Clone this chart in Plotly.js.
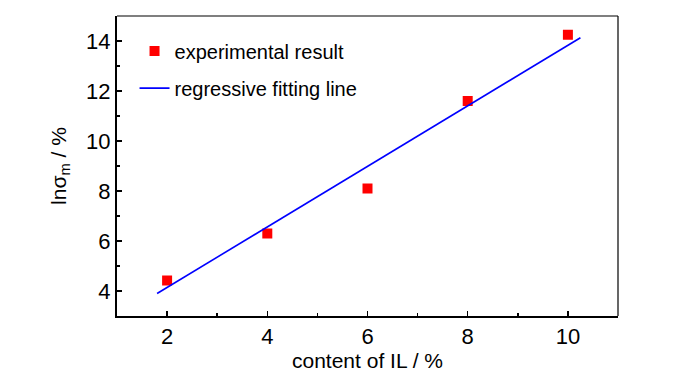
<!DOCTYPE html>
<html>
<head>
<meta charset="utf-8">
<script src="https://cdn.plot.ly/plotly-3.0.1.min.js"></script>
<style>html,body{margin:0;padding:0;background:#fff;}#chart{width:700px;height:374px;}</style>
</head>
<body>
<div id="chart"></div>
<script>
const contentIL = [2, 4, 6, 8, 10];
const lnSigma = [4.42, 6.3, 8.1, 11.6, 14.25];
const fitX = [1.8, 10.25];
const fitY = [3.9, 14.13];
const xTicks = [2, 4, 6, 8, 10];
const yTicks = [4, 6, 8, 10, 12, 14];

const FONT = "Liberation Sans, Arial, sans-serif";

const traces = [
  {
    x: contentIL, y: lnSigma, mode: 'markers', type: 'scatter',
    name: 'experimental result', legendgroup: 'a',
    marker: {symbol: 'square', size: 10, color: '#ff0000'}
  },
  {
    x: fitX, y: fitY, mode: 'lines', type: 'scatter',
    name: 'regressive fitting line', legendgroup: 'b',
    line: {color: '#0000ff', width: 1.6}
  }
];

const layout = {
  width: 700, height: 374,
  margin: {l: 117, r: 82, t: 16, b: 58},
  paper_bgcolor: '#fff', plot_bgcolor: '#fff',
  font: {family: FONT, color: '#000', size: 20},
  showlegend: true,
  legend: {x: 0.035, y: 0.948, xanchor: 'left', yanchor: 'top', traceorder: 'grouped',
           bgcolor: 'rgba(0,0,0,0)', font: {size: 20, family: FONT}, tracegroupgap: 8},
  xaxis: {
    range: [1, 11], tickvals: xTicks, ticktext: xTicks.map(String),
    ticks: 'inside', ticklen: 5, tickwidth: 1.5, tickcolor: '#000',
    minor: {dtick: 1, ticks: 'inside', ticklen: 3, tickwidth: 1.5, tickcolor: '#000'},
    showline: true, linewidth: 2, linecolor: '#000', showgrid: false, zeroline: false,
    tickfont: {size: 22, family: FONT},
    title: {text: 'content of IL / %', font: {size: 21, family: FONT}, standoff: 4}
  },
  yaxis: {
    range: [3, 15], tickvals: yTicks, ticktext: yTicks.map(String),
    ticks: 'inside', ticklen: 5, tickwidth: 1.5, tickcolor: '#000',
    minor: {dtick: 1, ticks: 'inside', ticklen: 3, tickwidth: 1.5, tickcolor: '#000'},
    showline: true, linewidth: 2, linecolor: '#000', showgrid: false, zeroline: false,
    tickfont: {size: 22, family: FONT},
    title: {text: 'lnσ<sub>m</sub> / %', font: {size: 21, family: FONT}, standoff: 14}
  },
  shapes: [
    {type: 'line', xref: 'paper', yref: 'paper', x0: 0, x1: 1, y0: 1, y1: 1, line: {color: '#000', width: 1.2}},
    {type: 'line', xref: 'paper', yref: 'paper', x0: 1, x1: 1, y0: 0, y1: 1, line: {color: '#000', width: 1.2}}
  ]
};

Plotly.newPlot('chart', traces, layout, {displayModeBar: false, staticPlot: true});
</script>
</body>
</html>
